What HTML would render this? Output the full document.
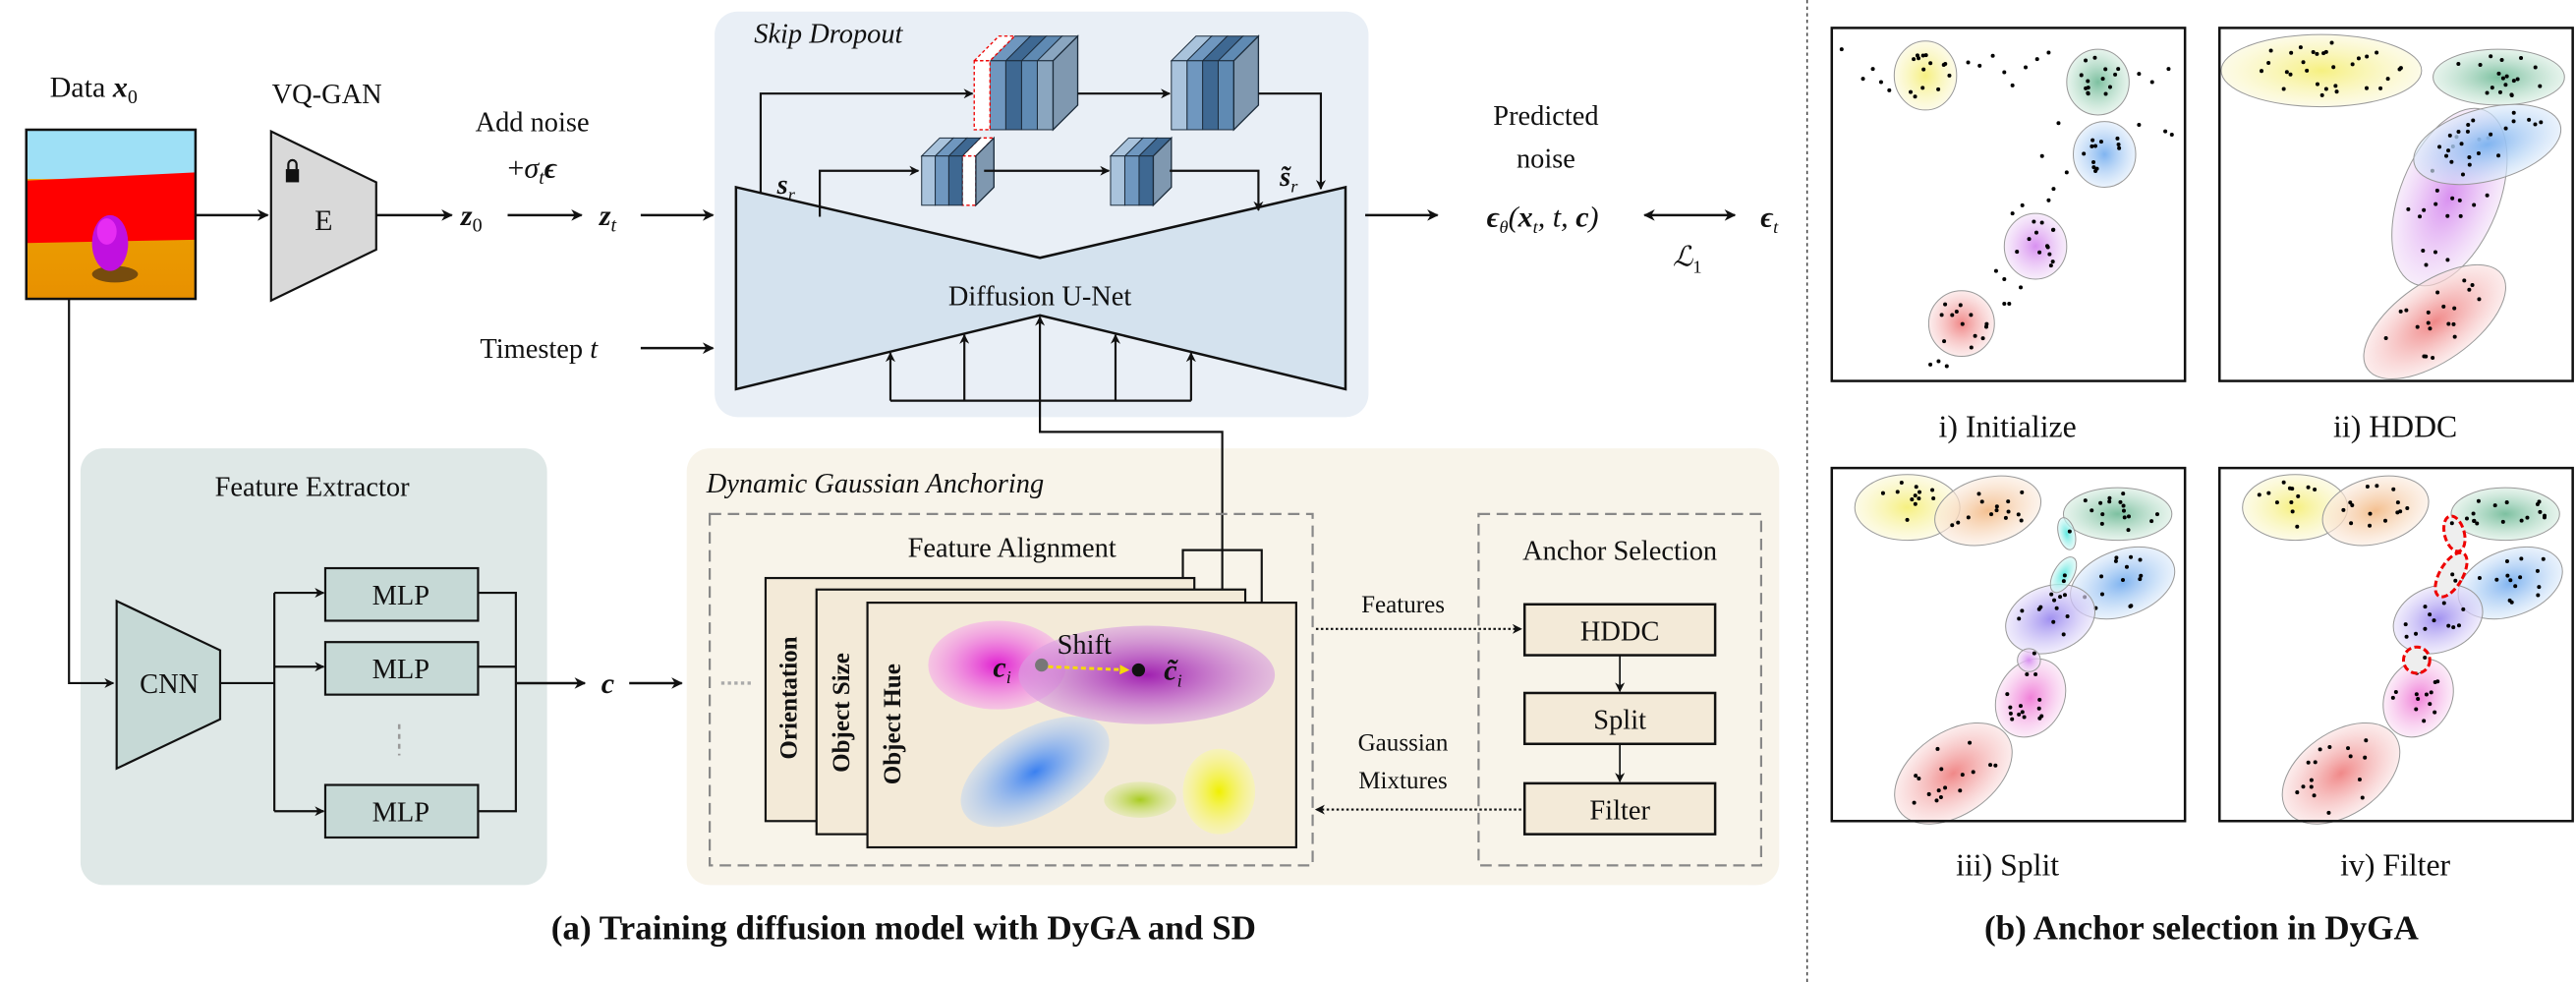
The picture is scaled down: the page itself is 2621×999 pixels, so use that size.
<!DOCTYPE html>
<html><head><meta charset="utf-8"><style>
html,body{margin:0;padding:0;background:#fff}
svg{display:block}
text{font-family:"Liberation Serif",serif;fill:#111}
</style></head><body>
<svg id="s" width="2621" height="999" viewBox="0 0 1568 598" preserveAspectRatio="none" xmlns="http://www.w3.org/2000/svg">
<defs>
<marker id="ar" viewBox="0 0 10 10" refX="9" refY="5" markerWidth="7" markerHeight="7" orient="auto-start-reverse" markerUnits="userSpaceOnUse"><path d="M0,0 L10,5 L0,10 L3,5 z" fill="#111"/></marker>
<marker id="as" viewBox="0 0 10 10" refX="9" refY="5" markerWidth="6" markerHeight="6" orient="auto-start-reverse" markerUnits="userSpaceOnUse"><path d="M0,0 L10,5 L0,10 L3,5 z" fill="#111"/></marker>
<marker id="ay" viewBox="0 0 10 10" refX="9" refY="5" markerWidth="6" markerHeight="6" orient="auto" markerUnits="userSpaceOnUse"><path d="M0,0 L10,5 L0,10 z" fill="#f5d90a"/></marker>
<radialGradient id="gpink"><stop offset="0" stop-color="#e020d0"/><stop offset="1" stop-color="#f7a0ec" stop-opacity="0.5"/></radialGradient>
<radialGradient id="gpur"><stop offset="0" stop-color="#a020b0"/><stop offset="1" stop-color="#d9a0e0" stop-opacity="0.6"/></radialGradient>
<radialGradient id="gblue"><stop offset="0" stop-color="#3a80f0"/><stop offset="1" stop-color="#c0d6f4" stop-opacity="0.5"/></radialGradient>
<radialGradient id="ggrn"><stop offset="0" stop-color="#a8cc20"/><stop offset="1" stop-color="#dce8a0" stop-opacity="0.5"/></radialGradient>
<radialGradient id="gyel"><stop offset="0" stop-color="#f0f000"/><stop offset="1" stop-color="#fafaa0" stop-opacity="0.5"/></radialGradient>
<radialGradient id="cy"><stop offset="0" stop-color="#f6f080"/><stop offset="1" stop-color="#fbf8d8" stop-opacity="0.6"/></radialGradient>
<radialGradient id="cg"><stop offset="0" stop-color="#7cc0a0"/><stop offset="1" stop-color="#d6ece0" stop-opacity="0.6"/></radialGradient>
<radialGradient id="cb"><stop offset="0" stop-color="#80b4f0"/><stop offset="1" stop-color="#dceafa" stop-opacity="0.6"/></radialGradient>
<radialGradient id="cp"><stop offset="0" stop-color="#d890f0"/><stop offset="1" stop-color="#f2e0f8" stop-opacity="0.6"/></radialGradient>
<radialGradient id="cr"><stop offset="0" stop-color="#f08888"/><stop offset="1" stop-color="#fae0e0" stop-opacity="0.6"/></radialGradient>
<radialGradient id="co"><stop offset="0" stop-color="#f4c090"/><stop offset="1" stop-color="#fbece0" stop-opacity="0.6"/></radialGradient>
<radialGradient id="cv"><stop offset="0" stop-color="#a090f0"/><stop offset="1" stop-color="#e6e0fa" stop-opacity="0.6"/></radialGradient>
<radialGradient id="cm"><stop offset="0" stop-color="#f080d8"/><stop offset="1" stop-color="#fae0f4" stop-opacity="0.6"/></radialGradient>
<radialGradient id="cc"><stop offset="0" stop-color="#60e8e0"/><stop offset="1" stop-color="#d8f8f6" stop-opacity="0.6"/></radialGradient>
<linearGradient id="floor" x1="0" y1="0" x2="0" y2="1"><stop offset="0" stop-color="#f0b000"/><stop offset="1" stop-color="#e89000"/></linearGradient>
</defs>

<rect x="435" y="7" width="398" height="247" rx="14" fill="#e9eff6"/>
<rect x="49" y="273" width="284" height="266" rx="14" fill="#dfe8e7"/>
<rect x="418" y="273" width="665" height="266" rx="14" fill="#f8f4ea"/>

<!-- data image -->
<rect x="16" y="79" width="103" height="103" fill="url(#floor)"/>
<rect x="16" y="79" width="103" height="30" fill="#9ee0f6"/>
<polygon points="16,110 119,105 119,146 16,148" fill="#ff0000"/>
<ellipse cx="70" cy="167" rx="14" ry="5" fill="#5a3a10" opacity="0.8"/>
<ellipse cx="67" cy="148" rx="11" ry="17" fill="#c010e0"/>
<ellipse cx="65" cy="141" rx="6" ry="8" fill="#ff40ff" opacity="0.6"/>
<rect x="16" y="79" width="103" height="103" fill="none" stroke="#111" stroke-width="1.5"/>
<text x="57" y="59" font-size="18" text-anchor="middle">Data <tspan font-weight="bold" font-style="italic">x</tspan><tspan font-size="12" dy="4">0</tspan></text>

<!-- encoder -->
<polygon points="165,80 229,111 229,152 165,183" fill="#d9d9d9" stroke="#111" stroke-width="1.3"/>
<rect x="174" y="103" width="8" height="8" fill="#111"/><path d="M175.5,103 v-3 a2.5,2.5 0 0 1 5,0 v3" fill="none" stroke="#111" stroke-width="1.3"/>
<text x="197" y="140" font-size="18" text-anchor="middle">E</text>
<text x="199" y="63" font-size="17" text-anchor="middle">VQ-GAN</text>
<line x1="119" y1="131" x2="163" y2="131" stroke="#111" stroke-width="1.5" marker-end="url(#ar)"/>
<line x1="229" y1="131" x2="275" y2="131" stroke="#111" stroke-width="1.5" marker-end="url(#ar)"/>
<text x="287" y="137" font-size="18" text-anchor="middle" font-weight="bold" font-style="italic">z<tspan font-size="12" dy="4" font-weight="normal" font-style="normal">0</tspan></text>
<line x1="309" y1="131" x2="354" y2="131" stroke="#111" stroke-width="1.5" marker-end="url(#ar)"/>
<text x="370" y="137" font-size="18" text-anchor="middle" font-weight="bold" font-style="italic">z<tspan font-size="12" dy="4" font-weight="normal">t</tspan></text>
<line x1="390" y1="131" x2="434" y2="131" stroke="#111" stroke-width="1.5" marker-end="url(#ar)"/>
<text x="324" y="80" font-size="17" text-anchor="middle">Add noise</text>
<text x="324" y="108" font-size="18" text-anchor="middle">+<tspan font-style="italic">σ</tspan><tspan font-size="12" dy="4" font-style="italic">t</tspan><tspan dy="-4" font-weight="bold" font-style="italic">ϵ</tspan></text>
<text x="328" y="218" font-size="17" text-anchor="middle">Timestep <tspan font-style="italic">t</tspan></text>
<line x1="390" y1="212" x2="434" y2="212" stroke="#111" stroke-width="1.5" marker-end="url(#ar)"/>

<!-- U-Net -->
<polygon points="448,114 633,157 819,114 819,237 633,192 448,237" fill="#d4e2ee" stroke="#111" stroke-width="1.5"/>
<text x="633" y="186" font-size="17" text-anchor="middle">Diffusion U-Net</text>
<text x="459" y="26" font-size="17" font-style="italic">Skip Dropout</text>
<g id="cubes"></g>
<g fill="none" stroke="#111" stroke-width="1.3">
<path d="M463,118 V57 H592" marker-end="url(#as)"/>
<line x1="656" y1="57" x2="712" y2="57" marker-end="url(#as)"/>
<path d="M766,57 H804 V115" marker-end="url(#as)"/>
<path d="M499,132 V104 H559" marker-end="url(#as)"/>
<line x1="599" y1="104" x2="675" y2="104" marker-end="url(#as)"/>
<path d="M712,104 H766 V128" marker-end="url(#as)"/>
</g>
<text x="473" y="118" font-size="17" font-weight="bold" font-style="italic">s<tspan font-size="11" dy="4" font-weight="normal">r</tspan></text>
<text x="779" y="113" font-size="17" font-weight="bold" font-style="italic">s̃<tspan font-size="11" dy="4" font-weight="normal">r</tspan></text>
<g fill="none" stroke="#111" stroke-width="1.3">
<path d="M542,244 H725"/>
<line x1="542" y1="244" x2="542" y2="215" marker-end="url(#as)"/>
<line x1="587" y1="244" x2="587" y2="204" marker-end="url(#as)"/>
<line x1="679" y1="244" x2="679" y2="204" marker-end="url(#as)"/>
<line x1="725" y1="244" x2="725" y2="215" marker-end="url(#as)"/>
<path d="M744,359 V263 H633 V193" marker-end="url(#as)"/>
</g>

<!-- predicted noise -->
<line x1="831" y1="131" x2="875" y2="131" stroke="#111" stroke-width="1.5" marker-end="url(#ar)"/>
<text x="941" y="76" font-size="17" text-anchor="middle">Predicted</text>
<text x="941" y="102" font-size="17" text-anchor="middle">noise</text>
<text x="939" y="138" font-size="18" text-anchor="middle" font-weight="bold" font-style="italic">ϵ<tspan font-size="11" dy="4" font-weight="normal">θ</tspan><tspan dy="-4" font-weight="normal">(</tspan>x<tspan font-size="11" dy="4" font-weight="normal">t</tspan><tspan dy="-4" font-weight="normal">, t, </tspan>c<tspan font-weight="normal">)</tspan></text>
<line x1="1001" y1="131" x2="1056" y2="131" stroke="#111" stroke-width="1.5" marker-end="url(#ar)" marker-start="url(#ar)"/>
<text x="1077" y="138" font-size="18" text-anchor="middle" font-weight="bold" font-style="italic">ϵ<tspan font-size="11" dy="4" font-weight="normal">t</tspan></text>
<text x="1027" y="162" font-size="17" text-anchor="middle" font-style="italic">ℒ<tspan font-size="11" dy="4" font-style="normal">1</tspan></text>

<!-- feature extractor -->
<text x="190" y="302" font-size="17" text-anchor="middle">Feature Extractor</text>
<path d="M42,182 V416 H69" fill="none" stroke="#111" stroke-width="1.3" marker-end="url(#as)"/>
<polygon points="71,366 134,396 134,438 71,468" fill="#c6d9d6" stroke="#111" stroke-width="1.3"/>
<text x="103" y="422" font-size="17" text-anchor="middle">CNN</text>
<g fill="none" stroke="#111" stroke-width="1.3">
<path d="M134,416 H167"/><path d="M167,361 V494"/>
<line x1="167" y1="361" x2="197" y2="361" marker-end="url(#as)"/>
<line x1="167" y1="406" x2="197" y2="406" marker-end="url(#as)"/>
<line x1="167" y1="494" x2="197" y2="494" marker-end="url(#as)"/>
<path d="M291,361 H314 V494 H291 M291,406 H314"/>
<line x1="314" y1="416" x2="356" y2="416" marker-end="url(#ar)" stroke-width="1.5"/>
<line x1="383" y1="416" x2="415" y2="416" marker-end="url(#ar)" stroke-width="1.5"/>
</g>
<g fill="#c6d9d6" stroke="#111" stroke-width="1.3">
<rect x="198" y="346" width="93" height="32"/><rect x="198" y="391" width="93" height="32"/><rect x="198" y="478" width="93" height="32"/>
</g>
<g font-size="17" text-anchor="middle"><text x="244" y="368">MLP</text><text x="244" y="413">MLP</text><text x="244" y="500">MLP</text></g>
<line x1="243" y1="441" x2="243" y2="460" stroke="#999" stroke-width="1.5" stroke-dasharray="3,3"/>
<text x="370" y="422" font-size="18" text-anchor="middle" font-weight="bold" font-style="italic">c</text>
<line x1="439" y1="416" x2="459" y2="416" stroke="#aaa" stroke-width="2" stroke-dasharray="2,2"/>

<!-- DGA -->
<text x="430" y="300" font-size="17" font-style="italic">Dynamic Gaussian Anchoring</text>
<rect x="432" y="313" width="367" height="214" fill="none" stroke="#888" stroke-width="1.3" stroke-dasharray="7,4"/>
<rect x="900" y="313" width="172" height="214" fill="none" stroke="#888" stroke-width="1.3" stroke-dasharray="7,4"/>
<text x="616" y="339" font-size="17" text-anchor="middle">Feature Alignment</text>
<text x="986" y="341" font-size="17" text-anchor="middle">Anchor Selection</text>
<path d="M720,352 V335 H768 V367" fill="none" stroke="#111" stroke-width="1.3"/>
<rect x="466" y="352" width="261" height="148" fill="#f3ead8" stroke="#111" stroke-width="1.3"/>
<rect x="497" y="359" width="261" height="149" fill="#f3ead8" stroke="#111" stroke-width="1.3"/>
<rect x="528" y="367" width="261" height="149" fill="#f3ead8" stroke="#111" stroke-width="1.3"/>
<g font-size="15" font-family="DejaVu Serif" font-weight="bold" text-anchor="middle">
<text transform="translate(485,425) rotate(-90)">Orientation</text>
<text transform="translate(517,434) rotate(-90)">Object Size</text>
<text transform="translate(548,441) rotate(-90)">Object Hue</text>
</g>
<ellipse cx="607" cy="405" rx="42" ry="27" fill="url(#gpink)"/>
<ellipse cx="698" cy="411" rx="78" ry="30" fill="url(#gpur)"/>
<ellipse cx="630" cy="470" rx="50" ry="26" transform="rotate(-30 630 470)" fill="url(#gblue)"/>
<ellipse cx="694" cy="487" rx="22" ry="11" fill="url(#ggrn)"/>
<ellipse cx="742" cy="482" rx="22" ry="26" fill="url(#gyel)"/>
<text x="660" y="398" font-size="17" text-anchor="middle">Shift</text>
<text x="610" y="412" font-size="18" text-anchor="middle" font-weight="bold" font-style="italic">c<tspan font-size="11" dy="4" font-weight="normal">i</tspan></text>
<circle cx="634" cy="405" r="4" fill="#777"/>
<line x1="638" y1="406" x2="687" y2="408" stroke="#f5d90a" stroke-width="1.8" stroke-dasharray="3,2" marker-end="url(#ay)"/>
<circle cx="693" cy="408" r="4" fill="#111"/>
<text x="714" y="414" font-size="18" text-anchor="middle" font-weight="bold" font-style="italic">c̃<tspan font-size="11" dy="4" font-weight="normal">i</tspan></text>
<line x1="801" y1="383" x2="926" y2="383" stroke="#111" stroke-width="1.3" stroke-dasharray="1.5,1.5" marker-end="url(#as)"/>
<line x1="926" y1="493" x2="801" y2="493" stroke="#111" stroke-width="1.3" stroke-dasharray="1.5,1.5" marker-end="url(#as)"/>
<text x="854" y="373" font-size="15" text-anchor="middle">Features</text>
<text x="854" y="457" font-size="15" text-anchor="middle">Gaussian</text>
<text x="854" y="480" font-size="15" text-anchor="middle">Mixtures</text>
<g fill="#f3ead8" stroke="#111" stroke-width="1.5">
<rect x="928" y="368" width="116" height="31"/><rect x="928" y="422" width="116" height="31"/><rect x="928" y="477" width="116" height="31"/>
</g>
<g font-size="17" text-anchor="middle"><text x="986" y="390">HDDC</text><text x="986" y="444">Split</text><text x="986" y="499">Filter</text></g>
<line x1="986" y1="399" x2="986" y2="421" stroke="#111" stroke-width="1" marker-end="url(#as)"/>
<line x1="986" y1="453" x2="986" y2="476" stroke="#111" stroke-width="1" marker-end="url(#as)"/>

<text x="550" y="572" font-size="21" font-weight="bold" text-anchor="middle">(a) Training diffusion model with DyGA and SD</text>

<line x1="1100" y1="0" x2="1100" y2="598" stroke="#333" stroke-width="0.8" stroke-dasharray="2,2"/>

<g id="clusters"></g>
<g fill="none" stroke="#111" stroke-width="1.5">
<rect x="1115" y="17" width="215" height="215"/><rect x="1351" y="17" width="215" height="215"/>
<rect x="1115" y="285" width="215" height="215"/><rect x="1351" y="285" width="215" height="215"/>
</g>
<g font-size="19" text-anchor="middle">
<text x="1222" y="266">i) Initialize</text><text x="1458" y="266">ii) HDDC</text>
<text x="1222" y="533">iii) Split</text><text x="1458" y="533">iv) Filter</text>
</g>
<text x="1340" y="572" font-size="21" font-weight="bold" text-anchor="middle">(b) Anchor selection in DyGA</text>
</svg>
<script>
(function(){
var NS="http://www.w3.org/2000/svg";
function el(p,t,a){var e=document.createElementNS(NS,t);for(var k in a)e.setAttribute(k,a[k]);p.appendChild(e);return e;}
var cg=document.getElementById("cubes");
var cols=["#a9c3dc","#6f97bf","#3e6892","#5f8ab3","#8aa6c0"];
function cube(x,y,w,h,d,n,red){
  var sw=w/n;
  for(var i=n-1;i>=0;i--){
    var xs=x+i*sw, c=cols[i%5];
    if(red===i){
      el(cg,"polygon",{points:[xs,y,xs+d,y-d,xs+sw+d,y-d,xs+sw,y].join(","),fill:"#fff",stroke:"#e00","stroke-width":0.8,"stroke-dasharray":"2,1.5"});
      el(cg,"rect",{x:xs,y:y,width:sw,height:h,fill:"#fff",stroke:"#e00","stroke-width":0.8,"stroke-dasharray":"2,1.5"});
      continue;
    }
    el(cg,"polygon",{points:[xs,y,xs+d,y-d,xs+sw+d,y-d,xs+sw,y].join(","),fill:c,stroke:"#1c2c3c","stroke-width":0.6});
    el(cg,"rect",{x:xs,y:y,width:sw,height:h,fill:c,stroke:"#1c2c3c","stroke-width":0.6});
  }
  var xr=x+w;
  el(cg,"polygon",{points:[xr,y,xr+d,y-d,xr+d,y+h-d,xr,y+h].join(","),fill:"#7f98b0",stroke:"#1c2c3c","stroke-width":0.8});
}
cube(593,37,48,42,15,5,0);
cube(713,37,38,42,15,4,-1);
cube(561,95,33,30,11,4,3);
cube(676,95,26,30,11,3,-1);

var g=document.getElementById("clusters");
var seed=7;function r(){seed=(seed*16807)%2147483647;return seed/2147483647;}
function cl(cx,cy,rx,ry,rot,fill,n,dash){
  var a={cx:cx,cy:cy,rx:rx,ry:ry,fill:"url(#"+fill+")",stroke:"#999","stroke-width":0.6,transform:"rotate("+rot+" "+cx+" "+cy+")"};
  if(dash){a.fill="#eee";a.stroke="#e00";a["stroke-width"]=1.8;a["stroke-dasharray"]="4,2";}
  el(g,"ellipse",a);
  var t=rot*Math.PI/180;
  for(var i=0;i<n;i++){var ang=r()*6.283,rr=Math.sqrt(r())*0.8;var u=Math.cos(ang)*rr*rx,v=Math.sin(ang)*rr*ry;
    el(g,"circle",{cx:cx+u*Math.cos(t)-v*Math.sin(t),cy:cy+u*Math.sin(t)+v*Math.cos(t),r:1.2,fill:"#000"});}
}
function dot(x,y){el(g,"circle",{cx:x,cy:y,r:1.2,fill:"#000"});}
cl(1172,46,19,21,0,"cy",14);cl(1277,50,19,20,0,"cg",14);cl(1281,94,19,20,0,"cb",12);cl(1239,150,19,20,0,"cp",12);cl(1194,197,20,20,0,"cr",12);
var sc=[[1121,30],[1134,48],[1140,42],[1145,50],[1150,55],[1198,38],[1205,40],[1213,34],[1220,44],[1225,52],[1233,41],[1240,36],[1247,32],[1302,45],[1310,50],[1320,42],[1318,80],[1322,82],[1302,76],[1258,105],[1250,115],[1247,122],[1238,135],[1231,125],[1243,95],[1225,130],[1215,165],[1220,170],[1230,175],[1220,185],[1223,185],[1207,206],[1175,222],[1180,220],[1185,223],[1253,75]];
sc.forEach(function(p){dot(p[0],p[1]);});
cl(1413,43,61,22,0,"cy",30);cl(1521,47,40,17,0,"cg",18);cl(1491,120,30,57,22,"cp",20);cl(1514,88,46,22,-15,"cb",22);cl(1482,196,50,24,-35,"cr",20);
function split(dx,filt){
  cl(1161+dx,309,32,20,0,"cy",12);cl(1210+dx,311,33,20,-15,"co",14);cl(1289+dx,313,33,16,0,"cg",16);
  cl(1292+dx,355,33,20,-20,"cb",14);cl(1248+dx,377,28,20,-20,"cv",12);cl(1236+dx,425,25,20,-60,"cm",14);cl(1189+dx,471,40,25,-35,"cr",16);
  if(!filt){cl(1258+dx,325,5,10,-15,"cc",1);cl(1256+dx,350,6,12,30,"cc",2);cl(1235+dx,402,7,7,0,"cp",1);}
  else{cl(1258+dx,325,6,11,-15,"",1,true);cl(1256+dx,350,7,15,30,"",2,true);cl(1235+dx,402,8,8,0,"",1,true);}
}
split(0,false);split(236,true);
})();
</script>
</body></html>
